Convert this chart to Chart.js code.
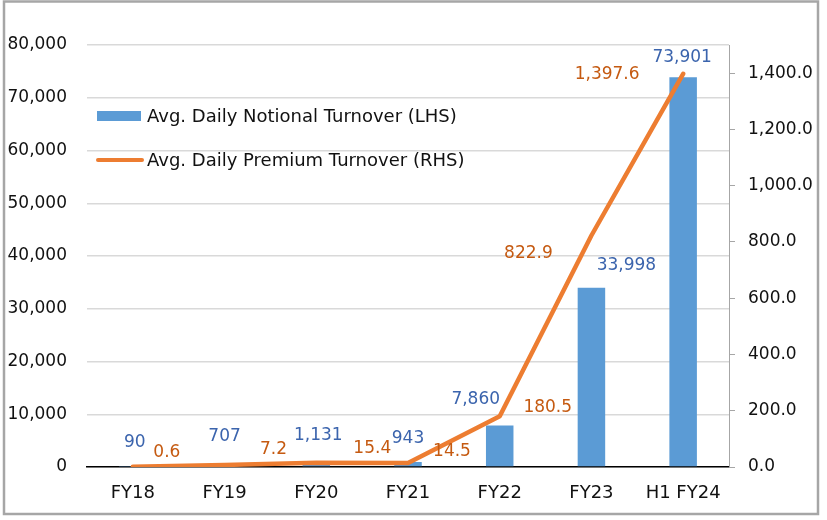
<!DOCTYPE html>
<html>
<head>
<meta charset="utf-8">
<script src="https://cdn.jsdelivr.net/npm/chart.js@4"></script>
<style>
  html, body { margin: 0; padding: 0; background: #fff; }
  #wrap { width: 827px; height: 520px; position: relative; }
</style>
</head>
<body>
<div id="wrap"><canvas id="chart" width="827" height="520"></canvas></div>
<script>
const categories = ["FY18", "FY19", "FY20", "FY21", "FY22", "FY23", "H1 FY24"]
const notionalTurnover = [90, 707, 1131, 943, 7860, 33998, 73901]
const premiumTurnover = [0.6, 7.2, 15.4, 14.5, 180.5, 822.9, 1397.6]
const leftTicks = [0, 10000, 20000, 30000, 40000, 50000, 60000, 70000, 80000]
const rightTicks = [0, 200, 400, 600, 800, 1000, 1200, 1400]

const FONT = "'DejaVu Sans', sans-serif"
const TEXT_SIZE = 18
const NUM_SIZE = 17
const BLUE = "#5b9bd5"
const ORANGE = "#ed7d31"

// label offsets (px) relative to bar top / line point
const barLabelShift = [[2, -24], [0, -27], [2, -25], [0, -23], [-24, -26], [35, -22], [-1, -20]]
const lineLabelShift = [[34, -14], [49, -15], [56, -14], [44, -11], [48, -9], [-63, 18], [-76, 1]]

const fmtInt = (v) => v.toLocaleString("en-US")
const fmtOne = (v) => v.toLocaleString("en-US", { minimumFractionDigits: 1, maximumFractionDigits: 1 })

const overlay = {
  id: "overlay",
  beforeDraw(chart) {
    const ctx = chart.ctx
    ctx.save()
    ctx.fillStyle = "#fff"
    ctx.fillRect(0, 0, chart.width, chart.height)
    ctx.restore()
  },
  afterDraw(chart) {
    const ctx = chart.ctx
    ctx.save()
    ctx.font = `${NUM_SIZE}px ${FONT}`
    ctx.textAlign = "center"
    ctx.textBaseline = "middle"

    const barMeta = chart.getDatasetMeta(1)
    barMeta.data.forEach((bar, i) => {
      const [dx, dy] = barLabelShift[i]
      ctx.fillStyle = "#3b64ad"
      ctx.fillText(fmtInt(notionalTurnover[i]), bar.x + dx, bar.y + dy)
    })

    const lineMeta = chart.getDatasetMeta(0)
    lineMeta.data.forEach((pt, i) => {
      const [dx, dy] = lineLabelShift[i]
      ctx.fillStyle = "#c55a11"
      ctx.fillText(fmtOne(premiumTurnover[i]), pt.x + dx, pt.y + dy)
    })

    // legend inside plot
    ctx.font = `${TEXT_SIZE}px ${FONT}`
    ctx.textAlign = "left"
    ctx.fillStyle = BLUE
    ctx.fillRect(97, 111, 44, 10)
    ctx.strokeStyle = ORANGE
    ctx.lineWidth = 4
    ctx.lineCap = "round"
    ctx.beginPath()
    ctx.moveTo(98, 160)
    ctx.lineTo(142, 160)
    ctx.stroke()
    ctx.fillStyle = "#111"
    ctx.fillText(chart.data.datasets[1].label, 147, 117)
    ctx.fillText(chart.data.datasets[0].label, 147, 161)

    // outer frame
    ctx.strokeStyle = "#a6a6a6"
    ctx.lineWidth = 2.5
    ctx.lineCap = "butt"
    ctx.strokeRect(4, 1.5, 814, 512.5)
    ctx.restore()
  }
}

new Chart(document.getElementById("chart"), {
  data: {
    labels: categories,
    datasets: [
      {
        type: "line",
        label: "Avg. Daily Premium Turnover (RHS)",
        data: premiumTurnover,
        yAxisID: "y1",
        borderColor: ORANGE,
        borderWidth: 4.5,
        borderCapStyle: "round",
        borderJoinStyle: "round",
        pointRadius: 0,
        tension: 0,
        order: 0
      },
      {
        type: "bar",
        label: "Avg. Daily Notional Turnover (LHS)",
        data: notionalTurnover,
        yAxisID: "y",
        backgroundColor: BLUE,
        categoryPercentage: 1,
        barPercentage: 0.3,
        order: 1
      }
    ]
  },
  options: {
    responsive: false,
    animation: false,
    layout: { padding: { top: 45, left: 0, right: 0, bottom: 0 } },
    plugins: {
      legend: { display: false },
      tooltip: { enabled: false }
    },
    scales: {
      x: {
        grid: { display: false },
        border: { color: "#000", width: 1.5 },
        ticks: { color: "#111", font: { family: FONT, size: TEXT_SIZE }, padding: 8, maxRotation: 0 },
        afterFit: (s) => { s.height = 53 }
      },
      y: {
        position: "left",
        min: 0,
        max: 80000,
        afterBuildTicks: (s) => { s.ticks = leftTicks.map((v) => ({ value: v })) },
        grid: { color: "#d9d9d9", lineWidth: 1.5, drawTicks: false },
        border: { display: false },
        ticks: { color: "#111", font: { family: FONT, size: NUM_SIZE }, padding: 20, callback: (v) => fmtInt(v) },
        afterFit: (s) => { s.width = 87 }
      },
      y1: {
        position: "right",
        min: 0,
        max: 1500,
        afterBuildTicks: (s) => { s.ticks = rightTicks.map((v) => ({ value: v })) },
        grid: { drawOnChartArea: false, color: "#a6a6a6", tickLength: 6 },
        border: { color: "#a6a6a6", width: 1 },
        ticks: { color: "#111", font: { family: FONT, size: NUM_SIZE }, padding: 13, callback: (v) => fmtOne(v) },
        afterFit: (s) => { s.width = 98 }
      }
    }
  },
  plugins: [overlay]
})
</script>
</body>
</html>
